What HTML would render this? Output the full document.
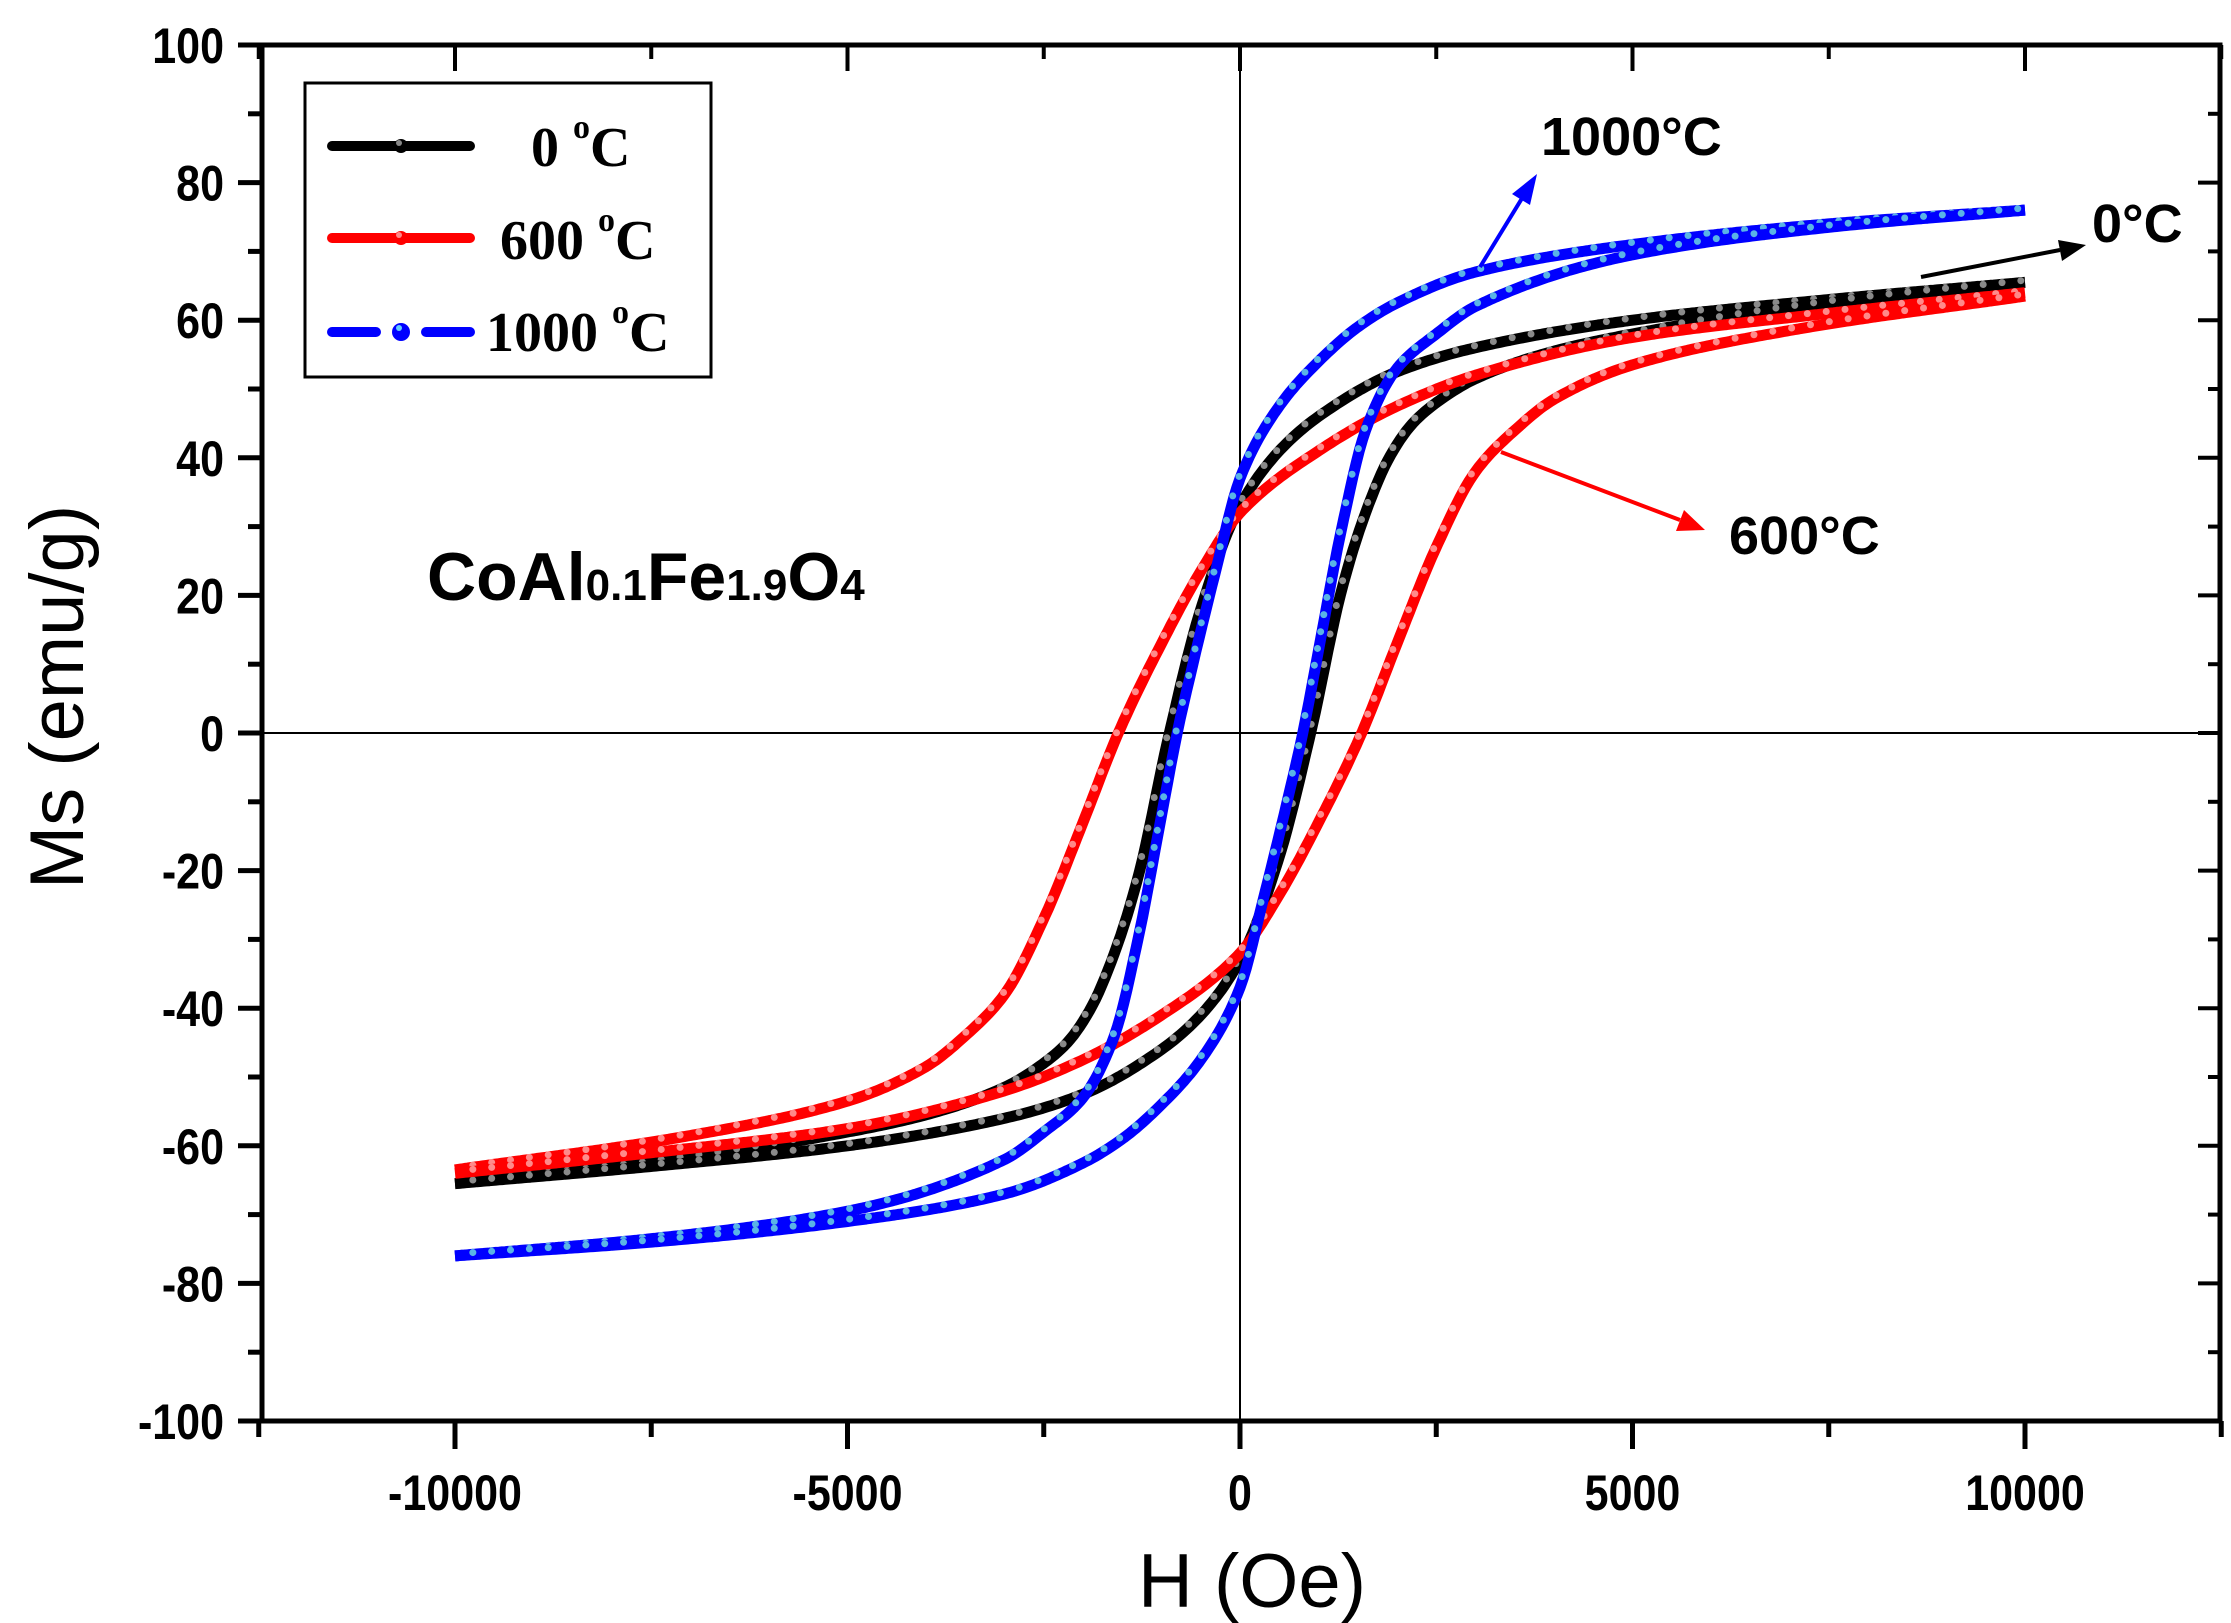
<!DOCTYPE html>
<html><head><meta charset="utf-8"><style>
html,body{margin:0;padding:0;background:#fff}
svg{display:block}
text{font-family:"Liberation Sans",sans-serif}
.tk{font-weight:bold;font-size:50px}
.sf{font-family:"Liberation Serif",serif;font-weight:bold}
</style></head><body>
<svg id="s" width="2231" height="1623" viewBox="0 0 2231 1623" xmlns="http://www.w3.org/2000/svg">
<rect width="2231" height="1623" fill="#fff"/>
<g id="ticks"></g>
<line x1="1240" y1="45" x2="1240" y2="1421" stroke="#000" stroke-width="2"/>
<line x1="262" y1="733" x2="2220" y2="733" stroke="#000" stroke-width="2"/>
<g id="curves"></g>
<rect x="262" y="45" width="1958" height="1376" fill="none" stroke="#000" stroke-width="5"/>
<rect x="305" y="83" width="406" height="294" fill="#fff" stroke="#000" stroke-width="3"/>
<line x1="332" y1="146" x2="470" y2="146" stroke="#000" stroke-width="10" stroke-linecap="round"/>
<circle cx="401" cy="146" r="7" fill="#000"/><circle cx="399" cy="143" r="3" fill="#888"/>
<line x1="332" y1="238" x2="470" y2="238" stroke="#f00" stroke-width="10" stroke-linecap="round"/>
<circle cx="401" cy="238" r="7" fill="#f00"/><circle cx="399" cy="235" r="3" fill="#f88"/>
<line x1="332" y1="332" x2="376" y2="332" stroke="#00f" stroke-width="10" stroke-linecap="round"/>
<line x1="426" y1="332" x2="470" y2="332" stroke="#00f" stroke-width="10" stroke-linecap="round"/>
<circle cx="401" cy="332" r="9" fill="#00f"/><circle cx="399" cy="328" r="3" fill="#6cf"/>
<text class="sf" x="531" y="166" font-size="56">0 <tspan font-size="34" dy="-28">o</tspan><tspan dy="28">C</tspan></text>
<text class="sf" x="500" y="259" font-size="56">600 <tspan font-size="34" dy="-28">o</tspan><tspan dy="28">C</tspan></text>
<text class="sf" x="486" y="351" font-size="56">1000 <tspan font-size="34" dy="-28">o</tspan><tspan dy="28">C</tspan></text>
<text x="427" y="600" font-size="68" font-weight="bold">CoAl<tspan font-size="44">0.1</tspan>Fe<tspan font-size="44">1.9</tspan>O<tspan font-size="44">4</tspan></text>
<text x="1541" y="155" font-size="54" font-weight="bold">1000°C</text>
<text x="2092" y="242" font-size="54" font-weight="bold">0°C</text>
<text x="1729" y="554" font-size="54" font-weight="bold">600°C</text>
<g stroke-width="4">
<line x1="1480" y1="267" x2="1524" y2="195" stroke="#00f"/><polygon points="1537,174 1530,205 1512,194" fill="#00f"/>
<line x1="1921" y1="277" x2="2060" y2="250" stroke="#000"/><polygon points="2086,245 2062,261 2058,240" fill="#000"/>
<line x1="1501" y1="452" x2="1680" y2="520" stroke="#f00"/><polygon points="1705,530 1676,531 1684,510" fill="#f00"/>
</g>
<text x="57" y="697" font-size="76" text-anchor="middle" transform="rotate(-90 57 697)" dy="26">Ms (emu/g)</text>
<text x="1252" y="1607" font-size="76" text-anchor="middle">H (Oe)</text>
</svg>
<script>
var NS="http://www.w3.org/2000/svg";
function px(H){return 1240+H*0.0785}
function py(M){return 733-M*6.88}
function el(n,a,p){var e=document.createElementNS(NS,n);for(var k in a)e.setAttribute(k,a[k]);p.appendChild(e);return e}
var T=document.getElementById("ticks");
for(var v=-100;v<=100;v+=10){var y=py(v),maj=v%20==0;
 el("line",{x1:262-(maj?24:14),y1:y,x2:262,y2:y,stroke:"#000","stroke-width":5},T);
 el("line",{x1:2220,y1:y,x2:2220-(maj?22:12),y2:y,stroke:"#000","stroke-width":4},T);
 if(maj){var t=el("text",{x:0,y:0,"text-anchor":"end","class":"tk",transform:"translate(224,"+(y+18)+") scale(0.86,1)"},T);t.textContent=v;}}
for(var h=-12500;h<=12500;h+=2500){var x=px(h),maj=h%5000==0;
 el("line",{x1:x,y1:1421,x2:x,y2:1421+(maj?28:16),stroke:"#000","stroke-width":5},T);
 el("line",{x1:x,y1:45,x2:x,y2:45+(maj?26:14),stroke:"#000","stroke-width":4},T);
 if(maj&&Math.abs(h)<=10000){var t=el("text",{x:0,y:0,"text-anchor":"middle","class":"tk",transform:"translate("+x+",1510) scale(0.86,1)"},T);t.textContent=h;}}
var D={
 k:[[-10000,-65.5],[-7500,-62.5],[-5000,-58],[-4000,-55.5],[-3000,-51.5],[-2500,-48],[-2200,-45],[-1900,-40],[-1600,-32],[-1300,-21],[-900,0],[-500,18],[0,33],[500,41],[1000,46],[2000,52.5],[3000,56],[5000,60],[7500,63],[10000,65.5]],
 r:[[-10000,-63.5],[-7000,-58.5],[-5000,-53.5],[-4000,-48.5],[-3500,-44],[-3000,-38],[-2500,-27],[-2000,-13],[-1550,0],[-1000,13],[-500,23.5],[0,32],[1000,41],[2000,47.5],[3000,52],[5000,57.5],[7500,61],[10000,64]],
 b:[[-10000,-76],[-7500,-73.5],[-5000,-69.5],[-3000,-62],[-2500,-58],[-2000,-53],[-1600,-44],[-1300,-30],[-1000,-12],[-800,0],[-600,10],[-300,24],[0,37],[500,47.5],[1000,54],[1500,59],[2000,62.5],[3000,67],[5000,71],[7500,74],[10000,76]]
};
function mono(P){var n=P.length,d=[],m=[];
 for(var i=0;i<n-1;i++)d.push((P[i+1][1]-P[i][1])/(P[i+1][0]-P[i][0]));
 m[0]=d[0];m[n-1]=d[n-2];
 for(var i=1;i<n-1;i++){if(d[i-1]*d[i]<=0)m[i]=0;else{var w1=2*(P[i+1][0]-P[i][0])+(P[i][0]-P[i-1][0]),w2=(P[i+1][0]-P[i][0])+2*(P[i][0]-P[i-1][0]);m[i]=(w1+w2)/(w1/d[i-1]+w2/d[i]);}}
 return function(H){for(var i=0;i<n-1;i++){if(H<=P[i+1][0]||i==n-2){var h=P[i+1][0]-P[i][0],t=(H-P[i][0])/h,t2=t*t,t3=t2*t;
  return (2*t3-3*t2+1)*P[i][1]+(t3-2*t2+t)*h*m[i]+(-2*t3+3*t2)*P[i+1][1]+(t3-t2)*h*m[i+1];}}}}
var C=document.getElementById("curves");
var cols={k:["#000","#8a8a8a"],r:["#f00","#ff8a8a"],b:["#00f","#5ab4e6"]};
["k","r","b"].forEach(function(s){
 var f=mono(D[s]);var up=[],lo=[],N=500;
 for(var i=0;i<=N;i++){var H=-10000+20000*i/N;up.push([H,f(H)]);lo.push([H,-f(-H)]);}
 [up,lo].forEach(function(arr){
  var d="";arr.forEach(function(p,i){d+=(i?"L":"M")+px(p[0]).toFixed(1)+","+py(p[1]).toFixed(1)});
  el("path",{d:d,fill:"none",stroke:cols[s][0],"stroke-width":11,"stroke-linejoin":"round"},C);
  var acc=0;for(var i=1;i<arr.length;i++){var x0=px(arr[i-1][0]),y0=py(arr[i-1][1]),x1=px(arr[i][0]),y1=py(arr[i][1]);
   acc+=Math.hypot(x1-x0,y1-y0);if(acc>=17){acc=0;el("circle",{cx:x1-1,cy:y1-2,r:3.5,fill:cols[s][1]},C);}}
 });
});
</script>
</body></html>
